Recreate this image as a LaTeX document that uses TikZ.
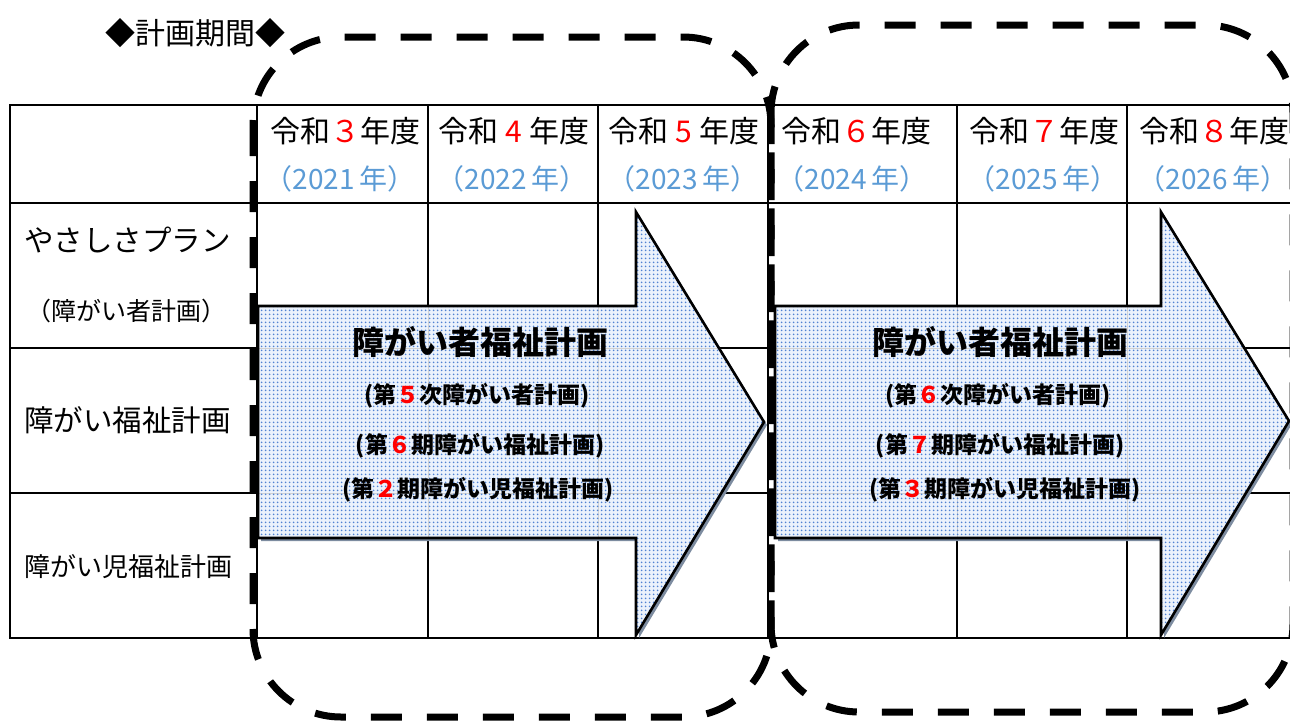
\documentclass[tikz,border=0pt]{standalone}
\usepackage{fontspec}
\setmainfont{Noto Sans CJK JP}
\usetikzlibrary{patterns.meta}
\definecolor{yearblue}{RGB}{91,155,213}
\definecolor{dotblue}{RGB}{80,130,210}
\definecolor{shadowc}{RGB}{125,140,160}
\definecolor{arrowbg}{RGB}{235,242,252}
\definecolor{numred}{RGB}{255,0,0}
\tikzdeclarepattern{name=bluedots, type=uncolored,
  bottom left={(0pt,0pt)}, top right={(4pt,4pt)}, tile size={(4pt,4pt)},
  code={\fill (2pt,2pt) circle (1.15pt);}}
\newcommand{\rn}[1]{\textcolor{numred}{#1}}
\begin{document}
\begin{tikzpicture}[x=1pt,y=-1pt,
  grid/.style={line width=2.6pt, line cap=rect},
  dashbox/.style={line width=7pt, dash pattern=on 31pt off 25pt, rounded corners=88pt},
  hdr/.style={font=\fontsize{30}{34}\selectfont, inner sep=0pt},
  yr/.style={font=\fontsize{28}{32}\selectfont, text=yearblue, inner sep=0pt},
  lab/.style={font=\fontsize{29.5}{34}\selectfont, inner sep=0pt, anchor=west},
  ttl/.style={font=\fontsize{32}{37}\selectfont\bfseries, inner sep=0pt},
  sub/.style={font=\fontsize{23}{27}\selectfont\bfseries, inner sep=0pt},
  arrowfill/.style={fill=arrowbg},
  arrowdots/.style={pattern={bluedots}, pattern color=dotblue},
  arrowline/.style={draw=black, line width=2.6pt, line join=miter}
]
\useasboundingbox (0,0) rectangle (1290,720);
\clip (0,0) rectangle (1290,720);

% title
\node[font=\fontsize{30}{34}\selectfont, inner sep=0pt] (title) at (195,33) {◆計画期間◆};

% table grid
\foreach \yy in {105,203,348,493,638} \draw[grid] (10,\yy) -- (1295,\yy);
\foreach \xx in {10,257,428,598,768,957,1127} \draw[grid] (\xx,105) -- (\xx,638);

% headers
\node[hdr] (h3) at (345,131) {令和\rn{３}年度};
\node[hdr] (h4) at (514,131) {令和 \rn{4} 年度};
\node[hdr] (h5) at (684,131) {令和 \rn{5} 年度};
\node[hdr] (h6) at (856,131) {令和\rn{６}年度};
\node[hdr] (h7) at (1044,131) {令和\rn{７}年度};
\node[hdr] (h8) at (1214,131) {令和\rn{８}年度};
\node[yr] (y1) at (340,179) {（2021\,年）};
\node[yr] (y2) at (512,179) {（2022\,年）};
\node[yr] (y3) at (683,179) {（2023\,年）};
\node[yr] (y4) at (852,179) {（2024\,年）};
\node[yr] (y5) at (1043,179) {（2025\,年）};
\node[yr] (y6) at (1213,179) {（2026\,年）};

% left labels
\node[lab] (l1) at (24,240) {やさしさプラン};
\node[lab, font=\fontsize{25}{30}\selectfont] (l2) at (26,311) {（障がい者計画）};
\node[lab] (l3) at (24,420) {障がい福祉計画};
\node[lab, font=\fontsize{26}{30}\selectfont] (l4) at (24,567) {障がい児福祉計画};

% arrow 1
\fill[shadowc] (261,309) -- (639,309) -- (639,215) -- (767,425) -- (639,638) -- (639,541) -- (261,541) -- cycle;
\fill[arrowfill] (258,306) -- (636,306) -- (636,212) -- (764,422) -- (636,635) -- (636,538) -- (258,538) -- cycle;
\begin{scope}
\clip (258,306) -- (636,306) -- (636,212) -- (764,422) -- (636,635) -- (636,538) -- (258,538) -- cycle;
\draw[black!18, line width=1pt] (258,348) -- (770,348) (258,493) -- (770,493) (428,300) -- (428,540) (598,300) -- (598,540);
\end{scope}
\fill[arrowdots] (258,306) -- (636,306) -- (636,212) -- (764,422) -- (636,635) -- (636,538) -- (258,538) -- cycle;
\draw[arrowline] (258,306) -- (636,306) -- (636,212) -- (764,422) -- (636,635) -- (636,538) -- (258,538) -- cycle;

% arrow 2
\fill[shadowc] (778,309) -- (1164,309) -- (1164,215) -- (1292,424) -- (1164,638) -- (1164,541) -- (778,541) -- cycle;
\fill[arrowfill] (775,306) -- (1161,306) -- (1161,212) -- (1289,421) -- (1161,635) -- (1161,538) -- (775,538) -- cycle;
\begin{scope}
\clip (775,306) -- (1161,306) -- (1161,212) -- (1289,421) -- (1161,635) -- (1161,538) -- (775,538) -- cycle;
\draw[black!18, line width=1pt] (775,348) -- (1295,348) (775,493) -- (1295,493) (957,300) -- (957,540) (1127,300) -- (1127,540);
\end{scope}
\fill[arrowdots] (775,306) -- (1161,306) -- (1161,212) -- (1289,421) -- (1161,635) -- (1161,538) -- (775,538) -- cycle;
\draw[arrowline] (775,306) -- (1161,306) -- (1161,212) -- (1289,421) -- (1161,635) -- (1161,538) -- (775,538) -- cycle;

% arrow texts
\node[ttl] (t1) at (480,342) {障がい者福祉計画};
\node[sub] (s11) at (477,396) {(第\rn{５}次障がい者計画)};
\node[sub] (s12) at (480,446) {(第\rn{６}期障がい福祉計画)};
\node[sub] (s13) at (478,490) {(第\rn{２}期障がい児福祉計画)};
\node[ttl] (t2) at (1000,342) {障がい者福祉計画};
\node[sub] (s21) at (998,396) {(第\rn{６}次障がい者計画)};
\node[sub] (s22) at (1000,446) {(第\rn{７}期障がい福祉計画)};
\node[sub] (s23) at (1005,490) {(第\rn{３}期障がい児福祉計画)};

% dashed period boxes
\draw[dashbox] (253,37) rectangle (771,717);
\draw[dashbox] (771,25) rectangle (1293,712);
\end{tikzpicture}
\end{document}
